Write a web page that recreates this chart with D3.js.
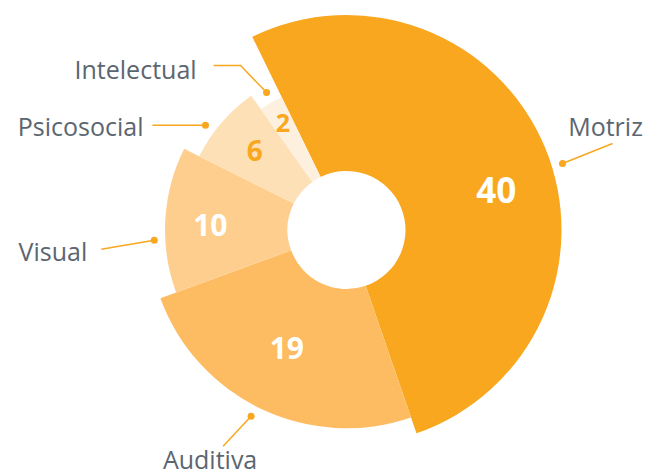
<!DOCTYPE html>
<html>
<head>
<meta charset="utf-8">
<script src="https://cdn.jsdelivr.net/npm/d3@7"></script>
<style>
  body { margin: 0; background: #fff; }
  svg { display: block; }
  .cat-label { font-family: "Open Sans", "Noto Sans", sans-serif; fill: #5b6670; }
  .val-label { font-family: "Open Sans", "Noto Sans", sans-serif; font-weight: 700; }
</style>
</head>
<body>
<svg id="Canvas" width="645" height="475"></svg>
<script>
// data
var categories = ["Motriz", "Auditiva", "Visual", "Psicosocial", "Intelectual"];
var values = [40, 19, 10, 6, 2];

var colors = ["#f8a71e", "#fdbc62", "#fece8e", "#fee0b6", "#fef0de"];
var valueColors = ["#fff", "#fff", "#fff", "#f8a71e", "#f8a71e"];

// label / leader layout (angles in degrees relative to slice middle), not data
var leaders = [
	{ shift: 5.4, pts: [[50, -20]], anchor: "middle", off: [-7, -8], valShift: 7.5, valR: 18, valSize: 35 },
	{ shift: 1.7, pts: [[-28, 30]], anchor: "middle", off: [-13, 23], valShift: 1.3, valR: 4, valSize: 30 },
	{ shift: -6.3, pts: [[-53, 9]], anchor: "end", off: [-14, 12], valShift: -1, valR: 16, valSize: 30 },
	{ shift: -4, pts: [[-53, 0]], anchor: "end", off: [-9, 11], valShift: 0, valR: 9, valSize: 28 },
	{ shift: 0.5, pts: [[-26, -27], [-53, -27]], anchor: "end", off: [-17, 13], valShift: 0, valR: 21, valSize: 25 }
];

var cx = 346.5, cy = 230, inner = 59;
var deg = Math.PI / 180;

var svg = d3.select("#Canvas");
var g = svg.append("g").attr("transform", "translate(" + cx + "," + cy + ")");

var rScale = d3.scaleLinear().domain([0, categories.length - 1]).range([215, 148]);

var pie = d3.pie().sort(null)
	.startAngle(-26 * deg)
	.endAngle(334 * deg);

var slices = pie(values);
slices.forEach(function(d, i){
	d.cat = categories[i];
	d.outer = rScale(i);
	d.mid = (d.startAngle + d.endAngle) / 2;
});

var arc = d3.arc()
	.innerRadius(inner)
	.outerRadius(function(d){ return d.outer; });

g.selectAll("path.slice").data(slices).enter()
	.append("path").attr("class", "slice")
	.attr("d", arc)
	.style("fill", function(d, i){ return colors[i]; });

function polar(a, r){
	return [Math.sin(a) * r, -Math.cos(a) * r];
}

// value labels
g.selectAll("text.val-label").data(slices).enter()
	.append("text").attr("class", "val-label")
	.attr("transform", function(d, i){
		var L = leaders[i];
		var p = polar(d.mid + L.valShift * deg, (inner + d.outer) / 2 + L.valR);
		return "translate(" + p[0] + "," + p[1] + ")";
	})
	.attr("text-anchor", "middle")
	.attr("dy", "0.36em")
	.style("font-size", function(d, i){ return leaders[i].valSize + "px"; })
	.style("fill", function(d, i){ return valueColors[i]; })
	.text(function(d){ return d.data; });

// leaders + category labels
slices.forEach(function(d, i){
	var L = leaders[i];
	var dot = polar(d.mid + L.shift * deg, d.outer + 11);
	var pts = [dot].concat(L.pts.map(function(p){ return [dot[0] + p[0], dot[1] + p[1]]; }));
	var end = pts[pts.length - 1];

	g.append("path")
		.attr("d", d3.line()(pts))
		.style("fill", "none")
		.style("stroke", "#f8a71e")
		.style("stroke-width", 1.5);

	g.append("circle")
		.attr("cx", dot[0]).attr("cy", dot[1]).attr("r", 3.5)
		.style("fill", "#f8a71e");

	g.append("text").attr("class", "cat-label")
		.attr("x", end[0] + L.off[0])
		.attr("y", end[1] + L.off[1])
		.attr("text-anchor", L.anchor)
		.style("font-size", "25px")
		.text(d.cat);
});
</script>
</body>
</html>
